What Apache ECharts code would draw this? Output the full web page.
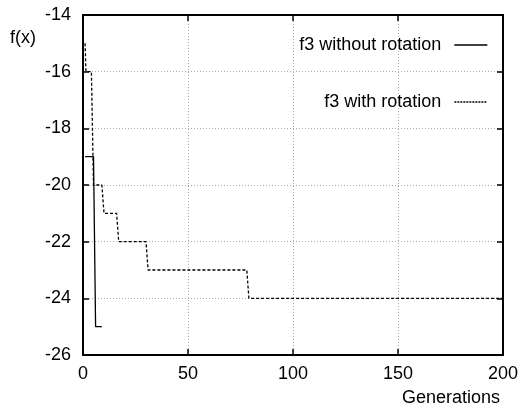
<!DOCTYPE html>
<html>
<head>
<meta charset="utf-8">
<script src="https://cdn.jsdelivr.net/npm/echarts@6/dist/echarts.min.js"></script>
<style>
html, body { margin: 0; padding: 0; background: #fff; }
#main { width: 521px; height: 411px; }
</style>
</head>
<body>
<div id="main"></div>
<script>
// 数据
var noRotX = [1, 5, 6, 9];
var noRotY = [-19, -19, -25, -25];
var rotX = [1, 1.4, 4, 5, 9, 10, 16, 17, 30, 31, 78, 79, 200];
var rotY = [-15, -16, -16, -20, -20, -21, -21, -22, -22, -23, -23, -24, -24];
var seriesNames = ['f3 without rotation', 'f3 with rotation'];

function pairs(xs, ys) {
    var out = [];
    for (var i = 0; i < xs.length; i++) {
        out.push([xs[i], ys[i]]);
    }
    return out;
}

var chart = echarts.init(document.getElementById('main'));
var font = 'Liberation Sans, Arial, Helvetica, sans-serif';

var gridLine = { show: true, lineStyle: { color: '#aaa', type: [1, 2], width: 1 } };
var tick = { show: true, inside: true, length: 6, lineStyle: { color: '#000', width: 1.5 } };
var border = { show: true, onZero: false, lineStyle: { color: '#000', width: 2 } };

function legendOf(name, top, dash) {
    return {
        data: [name],
        right: 33, top: top,
        padding: 0,
        align: 'right',
        itemWidth: 33, itemHeight: 14,
        itemStyle: { opacity: 0 },
        lineStyle: { color: '#000', width: 1.3, type: dash },
        textStyle: { fontFamily: font, fontSize: 18, color: '#000', padding: [0, 8, 0, 0] }
    };
}

var option = {
    animation: false,
    backgroundColor: '#fff',
    grid: { left: 83, right: 18, top: 15, bottom: 56, containLabel: false },
    legend: [legendOf(seriesNames[0], 36, 'solid'), legendOf(seriesNames[1], 93, [2, 1])],
    xAxis: [{
        type: 'value', min: 0, max: 200, interval: 50,
        axisLine: border, axisTick: tick, splitLine: gridLine,
        axisLabel: { fontFamily: font, fontSize: 18, color: '#000', margin: 10 }
    }, {
        type: 'value', min: 0, max: 200, interval: 50, position: 'top',
        axisLine: border, axisTick: tick, splitLine: { show: false },
        axisLabel: { show: false }
    }],
    yAxis: [{
        type: 'value', min: -26, max: -14, interval: 2,
        axisLine: border, axisTick: tick, splitLine: gridLine,
        axisLabel: { fontFamily: font, fontSize: 18, color: '#000', margin: 12 }
    }, {
        type: 'value', min: -26, max: -14, interval: 2, position: 'right',
        axisLine: border, axisTick: tick, splitLine: { show: false },
        axisLabel: { show: false }
    }],
    graphic: [{
        type: 'text', left: 10, top: 29,
        style: { text: 'f(x)', font: '18px ' + font, fill: '#000' }
    }, {
        type: 'text', right: 21, top: 389,
        style: { text: 'Generations', font: '18px ' + font, fill: '#000' }
    }],
    series: [{
        name: seriesNames[0],
        type: 'line',
        data: pairs(noRotX, noRotY),
        showSymbol: false, symbol: 'none',
        lineStyle: { color: '#000', width: 1.3, type: 'solid' },
        itemStyle: { color: '#000' }
    }, {
        name: seriesNames[1],
        type: 'line',
        data: pairs(rotX, rotY),
        showSymbol: false, symbol: 'none',
        lineStyle: { color: '#000', width: 1.3, type: [3, 2] },
        itemStyle: { color: '#000' }
    }]
};

chart.setOption(option);
</script>
</body>
</html>
